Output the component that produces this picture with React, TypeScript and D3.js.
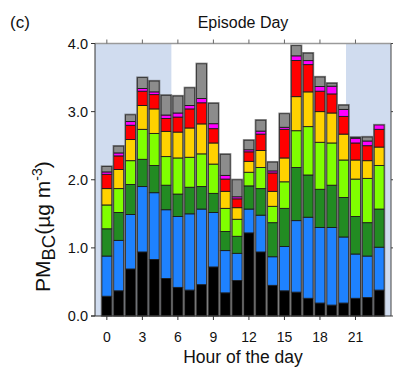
import React from "react";
import * as d3 from "d3";

const hours = d3.range(0, 24);
const black = [0.29,0.37,0.69,0.94,0.83,0.55,0.42,0.38,0.46,0.72,0.34,0.52,1.22,0.94,0.45,0.37,0.35,0.26,0.19,0.16,0.19,0.26,0.27,0.38];
const blue = [0.59,0.74,0.80,0.96,0.98,1.01,1.04,1.12,1.11,0.80,0.62,0.40,0.35,0.54,0.42,0.65,1.05,1.19,1.11,1.14,0.97,0.65,0.61,0.63];
const darkGreen = [0.40,0.41,0.44,0.40,0.40,0.36,0.33,0.39,0.33,0.28,0.28,0.25,0.34,0.39,0.50,0.56,0.78,0.62,0.56,0.62,0.58,0.55,0.49,0.56];
const lightGreen = [0.35,0.35,0.35,0.44,0.47,0.42,0.53,0.44,0.48,0.43,0.34,0.25,0.20,0.31,0.24,0.39,0.54,0.71,0.69,0.62,0.55,0.55,0.65,0.64];
const yellow = [0.24,0.28,0.31,0.35,0.36,0.37,0.38,0.43,0.44,0.31,0.25,0.17,0.16,0.25,0.22,0.35,0.50,0.51,0.45,0.44,0.38,0.28,0.26,0.27];
const red = [0.21,0.20,0.21,0.21,0.21,0.19,0.22,0.28,0.31,0.21,0.18,0.13,0.14,0.24,0.27,0.42,0.53,0.40,0.30,0.28,0.26,0.25,0.22,0.26];
const magenta = [0.035,0.044,0.054,0.04,0.04,0.05,0.06,0.05,0.063,0.073,0.054,0.03,0.03,0.044,0.03,0.03,0.069,0.059,0.069,0.113,0.103,0.069,0.069,0.064];
const gray = [0.08,0.10,0.10,0.16,0.16,0.29,0.25,0.26,0.51,0.30,0.31,0.25,0.14,0.16,0.13,0.20,0.15,0.11,0.14,0.044,0.063,0.014,0.059,0];

const series = [black, blue, darkGreen, lightGreen, yellow, red, magenta, gray];
const colors = ["#000000", "#1e82ff", "#228b22", "#80ff00", "#ffd200", "#ff0000", "#ff00ff", "#8c8c8c"];
const xTicks = [0, 3, 6, 9, 12, 15, 18, 21];
const yTicks = [0, 1, 2, 3, 4];
const shadeRanges = [[-1, 5.45], [20.2, 24]];

export default function App() {
  const W = 393, H = 371;
  const left = 95, right = 391, top = 43.5, bottom = 316;
  const x = d3.scaleLinear().domain([-1, 24]).range([left, right]);
  const y = d3.scaleLinear().domain([0, 4]).range([bottom, top]);
  const bw = 10;
  const font = "Liberation Sans, Arial, sans-serif";

  return (
    <svg width={W} height={H} style={{ position: "absolute", left: 0, top: 0 }} fontFamily={font}>
      {shadeRanges.map(([a, b], i) => (
        <rect key={i} x={x(a)} y={top} width={x(b) - x(a)} height={bottom - top} fill="#d0dcef" />
      ))}
      {hours.map((h, i) => {
        let cum = 0;
        const segs = series.map((s, k) => {
          const y0 = cum;
          cum += s[i];
          if (s[i] <= 0) return null;
          return (
            <rect key={k} x={x(h) - bw / 2} y={y(cum)} width={bw} height={y(y0) - y(cum)}
              fill={colors[k]} stroke="#1a1a1a" strokeWidth={0.9} />
          );
        });
        return (
          <g key={h}>
            {segs}
            <rect x={x(h) - bw / 2 - 0.5} y={y(cum) - 0.5} width={bw + 1} height={y(0) - y(cum) + 0.5}
              fill="none" stroke="#555" strokeOpacity={0.7} strokeWidth={1.2} />
          </g>
        );
      })}
      {/* frame */}
      <line x1={left} x2={right} y1={top} y2={top} stroke="#9a9a9a" strokeWidth={1.5} />
      <line x1={right} x2={right} y1={top} y2={bottom} stroke="#444" strokeWidth={1} />
      <line x1={left} x2={left} y1={top} y2={bottom} stroke="#333" strokeWidth={1} />
      <line x1={left - 4} x2={right} y1={bottom} y2={bottom} stroke="#333" strokeWidth={1} />
      {xTicks.map((t) => (
        <g key={t}>
          <line x1={x(t)} x2={x(t)} y1={bottom} y2={bottom + 4} stroke="#333" />
          <line x1={x(t)} x2={x(t)} y1={top} y2={top - 4} stroke="#666" />
          <text x={x(t)} y={341.5} fontSize={14} textAnchor="middle" fill="#111">{t}</text>
        </g>
      ))}
      {yTicks.map((t) => (
        <g key={t}>
          <line x1={left - 4} x2={left} y1={y(t)} y2={y(t)} stroke="#333" />
          <line x1={right} x2={right + 3} y1={y(t)} y2={y(t)} stroke="#444" />
          <text x={88} y={y(t) + 5.2} fontSize={14.5} textAnchor="end" fill="#111">{d3.format(".1f")(t)}</text>
        </g>
      ))}
      <text x={243} y={28} fontSize={16} textAnchor="middle" fill="#111">Episode Day</text>
      <text x={10} y={28} fontSize={17} fill="#111">(c)</text>
      <text x={243} y={363} fontSize={17.5} textAnchor="middle" fill="#111">Hour of the day</text>
      <text transform={`translate(50, 292) rotate(-90)`} fontSize={21} textAnchor="start" fill="#111">
        PM<tspan fontSize={18.5} dy={5}>BC</tspan><tspan dy={-5}>(µg m</tspan><tspan fontSize={14} dy={-8}>-3</tspan><tspan dy={8}>)</tspan>
      </text>
    </svg>
  );
}
